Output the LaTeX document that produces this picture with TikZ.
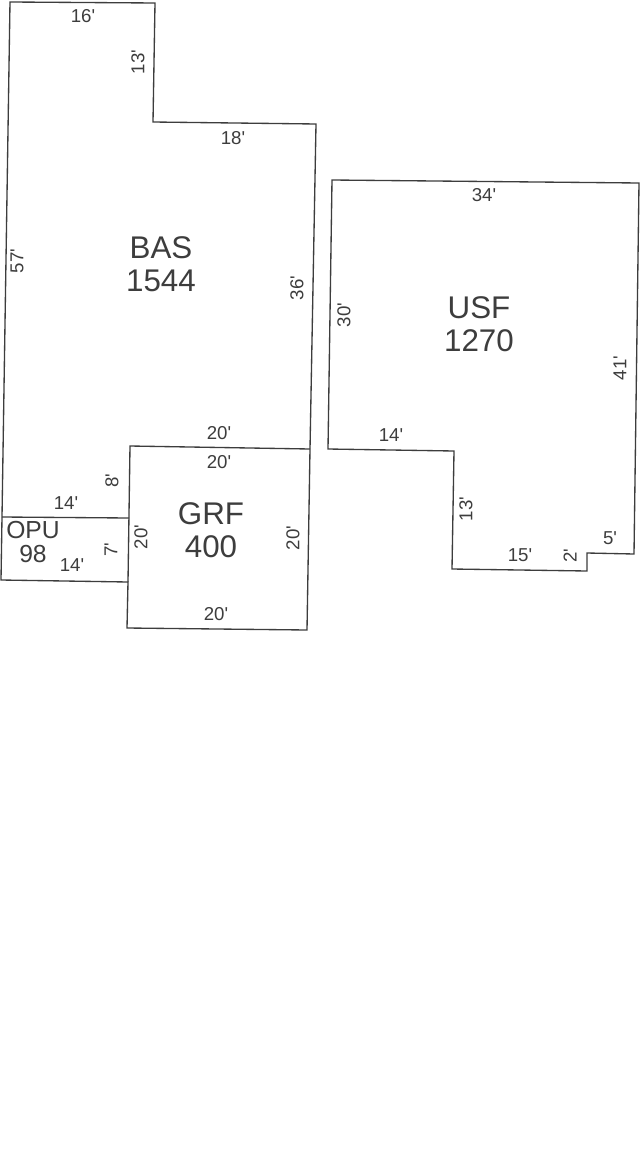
\documentclass[tikz,border=0pt]{standalone}
\usepackage{fontspec}
\setmainfont{Liberation Sans}
\definecolor{ink}{gray}{0.24}
\newcommand{\ft}{\textquotesingle}
\tikzset{
  px/.style={x=0.75pt,y=-0.75pt},
  wall/.style={draw=ink,line width=1pt,line join=miter},
  dim/.style={text=ink,font=\fontsize{14}{14}\selectfont,inner sep=0pt},
  area/.style={text=ink,font=\fontsize{23.5}{25}\selectfont,inner sep=0pt,align=center},
  opu/.style={text=ink,font=\fontsize{18.5}{18.5}\selectfont,inner sep=0pt,align=center}
}
\begin{document}
\begin{tikzpicture}[px]
\useasboundingbox[fill=white] (0,0) rectangle (640,1159);
\draw[wall] (10,2) -- (155,3) -- (153,122) -- (316,124) -- (310,449) -- (307,630) -- (127,628) -- (128,582) -- (1,580) -- (2,517) -- cycle;
\draw[wall] (129,518) -- (2,517);
\draw[wall] (128,582) -- (130,446) -- (310,449);
\draw[wall] (332,180) -- (639,183) -- (634,554) -- (587,553) -- (587,571) -- (452,569) -- (454,451) -- (328,449) -- cycle;
\node[area] (bas) at (161,264) {BAS\\1544};
\node[area] (usf) at (479,324) {USF\\1270};
\node[area] (grf) at (211,530) {GRF\\400};
\node[opu] (opu) at (33,542) {OPU\\98};
\node[dim] (a) at (83,16) {16\ft};
\node[dim,rotate=90] (b) at (138,62) {13\ft};
\node[dim] (c) at (233,138) {18\ft};
\node[dim,rotate=90] (d) at (297,288) {36\ft};
\node[dim,rotate=90] (e) at (17,261) {57\ft};
\node[dim] (f) at (219,433) {20\ft};
\node[dim] (g) at (219,462) {20\ft};
\node[dim,rotate=90] (h) at (112,481) {8\ft};
\node[dim] (i) at (66,503) {14\ft};
\node[dim,rotate=90] (j) at (111,550) {7\ft};
\node[dim] (k) at (72,565) {14\ft};
\node[dim,rotate=90] (l) at (141,537) {20\ft};
\node[dim,rotate=90] (m) at (293,538) {20\ft};
\node[dim] (n) at (216,614) {20\ft};
\node[dim] (o) at (484,195) {34\ft};
\node[dim,rotate=90] (p) at (344,315) {30\ft};
\node[dim,rotate=90] (q) at (620,368) {41\ft};
\node[dim] (r) at (391,435) {14\ft};
\node[dim,rotate=90] (s) at (466,509) {13\ft};
\node[dim] (t) at (520,555) {15\ft};
\node[dim,rotate=90] (u) at (570,556) {2\ft};
\node[dim] (v) at (610,538) {5\ft};
\end{tikzpicture}
\end{document}
